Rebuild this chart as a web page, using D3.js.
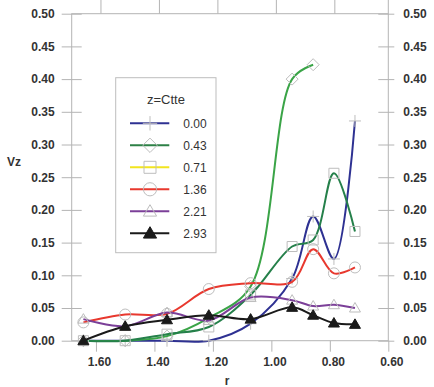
<!DOCTYPE html>
<html>
<head>
<meta charset="utf-8">
<script src="https://cdn.jsdelivr.net/npm/d3@7"></script>
<style>
  body { margin: 0; background: #fff; }
  svg { font-family: "Liberation Sans", Arial, sans-serif; }
</style>
</head>
<body>
<svg id="chart"></svg>
<script>
// r positions shared by every series
const rValues = [1.643, 1.500, 1.357, 1.214, 1.071, 0.929, 0.857, 0.786, 0.714];

const vz000 = [0.000, 0.000, 0.000, 0.000, 0.026, 0.095, 0.190, 0.125, 0.336];
const vz043 = [0.000, 0.000, 0.007, 0.035, 0.083, 0.400, 0.422];
const vz071 = [0.000, 0.000, 0.010, 0.021, 0.070, 0.144, 0.154, 0.256, 0.167];
const vz136 = [0.028, 0.040, 0.041, 0.079, 0.088, 0.090, 0.140, 0.103, 0.112];
const vz221 = [0.033, 0.022, 0.043, 0.031, 0.066, 0.062, 0.053, 0.055, 0.050];
const vz293 = [0.000, 0.022, 0.032, 0.039, 0.033, 0.051, 0.039, 0.027, 0.025];

const seriesNames = ["0.00", "0.43", "0.71", "1.36", "2.21", "2.93"];
const xTicks = [1.60, 1.40, 1.20, 1.00, 0.80, 0.60];
const yTicks = [0, 0.05, 0.10, 0.15, 0.20, 0.25, 0.30, 0.35, 0.40, 0.45, 0.50];

const series = [
  { name: seriesNames[0], values: vz000, color: "#2e3192", legendColor: "#2e3192", marker: "plus" },
  { name: seriesNames[1], values: vz043, color: "#3aa447", legendColor: "#2d8046", marker: "diamond" },
  { name: seriesNames[2], values: vz071, color: "#25804a", legendColor: "#f2e51f", marker: "square" },
  { name: seriesNames[3], values: vz136, color: "#e8382e", legendColor: "#e8382e", marker: "circle" },
  { name: seriesNames[4], values: vz221, color: "#7b3f98", legendColor: "#7b3f98", marker: "triangle" },
  { name: seriesNames[5], values: vz293, color: "#1a1a1a", legendColor: "#1a1a1a", marker: "filledTriangle" }
];

const margin = { top: 13.7, left: 71.7 };
const width = 316.6;
const height = 327;
const axisColor = "#b4b4b4";
const textColor = "#333";

const svg = d3.select("#chart")
  .attr("width", 434)
  .attr("height", 387);

const g = svg.append("g")
  .attr("transform", `translate(${margin.left},${margin.top})`);

const x = d3.scaleLinear().domain([1.683, 0.60]).range([0, width]);
const y = d3.scaleLinear().domain([0, 0.5]).range([height, 0]);

// marker path generator, s = scale factor
function markerPath(type, s) {
  const k = v => v * s;
  switch (type) {
    case "plus": return `M${k(-6)},0H${k(6)}M0,${k(-6)}V${k(6)}`;
    case "diamond": return `M0,${k(-6)}L${k(6)},0L0,${k(6)}L${k(-6)},0Z`;
    case "square": return `M${k(-5)},${k(-5)}H${k(5)}V${k(5)}H${k(-5)}Z`;
    case "circle": return `M${k(5.5)},0A${k(5.5)},${k(5.5)} 0 1,1 ${k(-5.5)},0A${k(5.5)},${k(5.5)} 0 1,1 ${k(5.5)},0Z`;
    default: return `M0,${k(-5.5)}L${k(5.5)},${k(4)}L${k(-5.5)},${k(4)}Z`;
  }
}

function drawMarker(sel, type, s) {
  sel.append("path")
    .attr("d", markerPath(type, s))
    .attr("fill", type === "filledTriangle" ? "#1a1a1a" : "none")
    .attr("stroke", type === "filledTriangle" ? "#1a1a1a" : "#bdbdbd")
    .attr("stroke-width", 1);
}

// frame
g.append("rect")
  .attr("width", width)
  .attr("height", height)
  .attr("fill", "none")
  .attr("stroke", axisColor);

// left axis, ticks cross the line
const leftAxis = g.append("g")
  .call(d3.axisLeft(y).tickValues(yTicks).tickFormat(d3.format(".2f")).tickSize(10).tickPadding(7));
leftAxis.select(".domain").remove();
leftAxis.selectAll(".tick line").attr("x1", -10).attr("x2", 10).attr("stroke", axisColor);

const rightAxis = g.append("g")
  .attr("transform", `translate(${width},0)`)
  .call(d3.axisRight(y).tickValues(yTicks).tickFormat(d3.format(".2f")).tickSize(6).tickPadding(9));
rightAxis.select(".domain").remove();
rightAxis.selectAll(".tick line").attr("x1", -10).attr("x2", 6).attr("stroke", axisColor);

const bottomAxis = g.append("g")
  .attr("transform", `translate(0,${height})`)
  .call(d3.axisBottom(x).tickValues(xTicks).tickFormat(d3.format(".2f")).tickSize(11).tickPadding(6));
bottomAxis.select(".domain").remove();
bottomAxis.selectAll(".tick line").attr("stroke", axisColor);
bottomAxis.selectAll(".tick text").attr("dx", 3);

// top ticks sit a little to the right in the original
const topAxis = g.append("g")
  .attr("transform", "translate(4.5,0)")
  .call(d3.axisTop(x).tickValues(xTicks.slice(0, 5)).tickFormat("").tickSize(13.7));
topAxis.select(".domain").remove();
topAxis.selectAll(".tick line").attr("stroke", axisColor);

g.append("line")
  .attr("x1", width).attr("x2", width)
  .attr("y1", -13.7).attr("y2", 0)
  .attr("stroke", axisColor);

g.selectAll(".tick text")
  .attr("fill", textColor)
  .style("font-size", "12px")
  .style("font-weight", "bold");

// axis titles
svg.append("text")
  .attr("x", 14).attr("y", 166)
  .attr("text-anchor", "middle")
  .attr("fill", textColor)
  .style("font-size", "12px").style("font-weight", "bold")
  .text("Vz");

svg.append("text")
  .attr("x", 227).attr("y", 385)
  .attr("text-anchor", "middle")
  .attr("fill", textColor)
  .style("font-size", "12px").style("font-weight", "bold")
  .text("r");

// lines
const line = d3.line()
  .x(d => x(d.r))
  .y(d => y(d.v))
  .curve(d3.curveCatmullRom.alpha(0.5));

series.forEach(s => {
  const pts = s.values.map((v, i) => ({ r: rValues[i], v: v }));
  g.append("path")
    .datum(pts)
    .attr("d", line)
    .attr("fill", "none")
    .attr("stroke", s.color)
    .attr("stroke-width", 2);
  pts.forEach(p => {
    const m = g.append("g").attr("transform", `translate(${x(p.r)},${y(p.v)})`);
    drawMarker(m, s.marker, 1);
  });
});

// legend
const legend = svg.append("g").attr("transform", "translate(115.7,77.7)");
legend.append("rect")
  .attr("width", 100.3).attr("height", 175)
  .attr("fill", "#fff")
  .attr("stroke", "#bdbdbd");
legend.append("text")
  .attr("x", 50.3).attr("y", 26)
  .attr("text-anchor", "middle")
  .attr("fill", textColor)
  .style("font-size", "13px")
  .text("z=Ctte");

series.forEach((s, i) => {
  const row = legend.append("g").attr("transform", `translate(0,${45.6 + i * 22})`);
  row.append("line")
    .attr("x1", 14.3).attr("x2", 53.6)
    .attr("stroke", s.legendColor)
    .attr("stroke-width", 2);
  const m = row.append("g").attr("transform", "translate(34.3,0)");
  drawMarker(m, s.marker, 1.2);
  row.append("text")
    .attr("x", 67.6).attr("y", 4.3)
    .attr("fill", textColor)
    .style("font-size", "12px")
    .text(s.name);
});
</script>
</body>
</html>
